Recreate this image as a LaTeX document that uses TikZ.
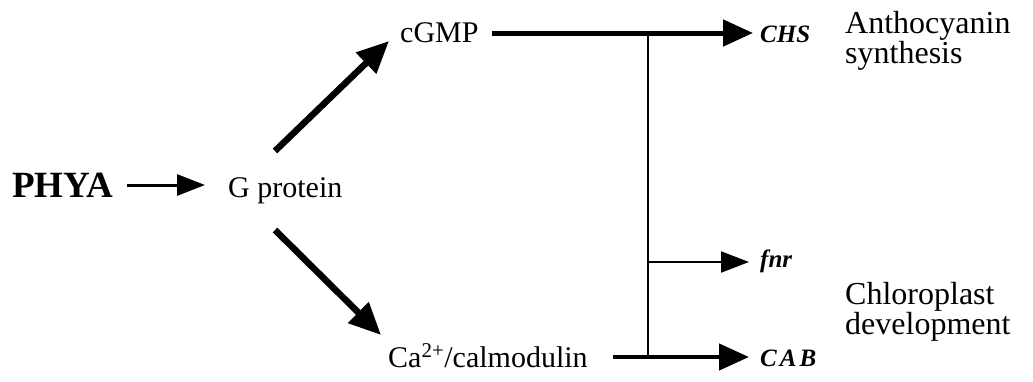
\documentclass[tikz,border=0pt]{standalone}
\usepackage{fontspec}
\setmainfont{Liberation Serif}
\usetikzlibrary{arrows.meta}
\tikzset{
  lbl/.style={anchor=base west, inner sep=0pt, font=\fontsize{30}{32}\selectfont},
  gene/.style={anchor=base west, inner sep=0pt, font=\fontsize{25}{26}\selectfont\bfseries\itshape},
  bigarrow/.style={line width=6.5pt, -{Triangle[length=32pt,width=28pt]}},
  medarrow/.style={line width=5pt, -{Triangle[length=30pt,width=26pt]}},
  thinarrow/.style={line width=2pt, -{Triangle[length=28pt,width=21pt]}},
  stem/.style={line width=2pt}
}
\begin{document}
\begin{tikzpicture}[x=1pt,y=-1pt]
\useasboundingbox (0,0) rectangle (1033,381);
% texts
\node[anchor=base west, inner sep=0pt, font=\fontsize{37}{38}\selectfont\bfseries] (phya) at (12,197) {PHYA};
\node[lbl] (gp) at (228,197) {G protein};
\node[lbl] (cgmp) at (400,42) {cGMP};
\node[lbl] (ca) at (388,367) {Ca\textsuperscript{2+}/calmodulin};
\node[gene] (chs) at (760,42) {CHS};
\node[gene] (fnr) at (760,267) {fnr};
\node[gene] (cab) at (760,366) {C\kern3pt A\kern3pt B};
\node[lbl, align=left, anchor=north west, font=\fontsize{32}{28}\selectfont] (anth) at (845,11) {Anthocyanin\\synthesis};
\node[lbl, align=left, anchor=north west, font=\fontsize{32}{28}\selectfont] (chl) at (845,282) {Chloroplast\\development};
% connector points
\coordinate (p1) at (127,185);
\coordinate (p2) at (205,185);
\coordinate (u1) at (275,151);
\coordinate (u2) at (389,41);
\coordinate (d1) at (275,230);
\coordinate (d2) at (381,335);
\coordinate (c1) at (492,33);
\coordinate (c2) at (753,33);
\coordinate (jt) at (648,33);
\coordinate (jf) at (648,262);
\coordinate (jb) at (648,357);
\coordinate (f2) at (749,262);
\coordinate (b1) at (613,357);
\coordinate (b2) at (749,357);
% connectors
\draw[line width=3pt, -{Triangle[length=28pt,width=21pt]}] (p1) -- (p2);
\draw[bigarrow] (u1) -- (u2);
\draw[bigarrow] (d1) -- (d2);
\draw[medarrow] (c1) -- (c2);
\draw[stem] (jt) -- (jb);
\draw[thinarrow] (jf) -- (f2);
\draw[medarrow, line width=4.5pt] (b1) -- (b2);
\end{tikzpicture}
\end{document}
